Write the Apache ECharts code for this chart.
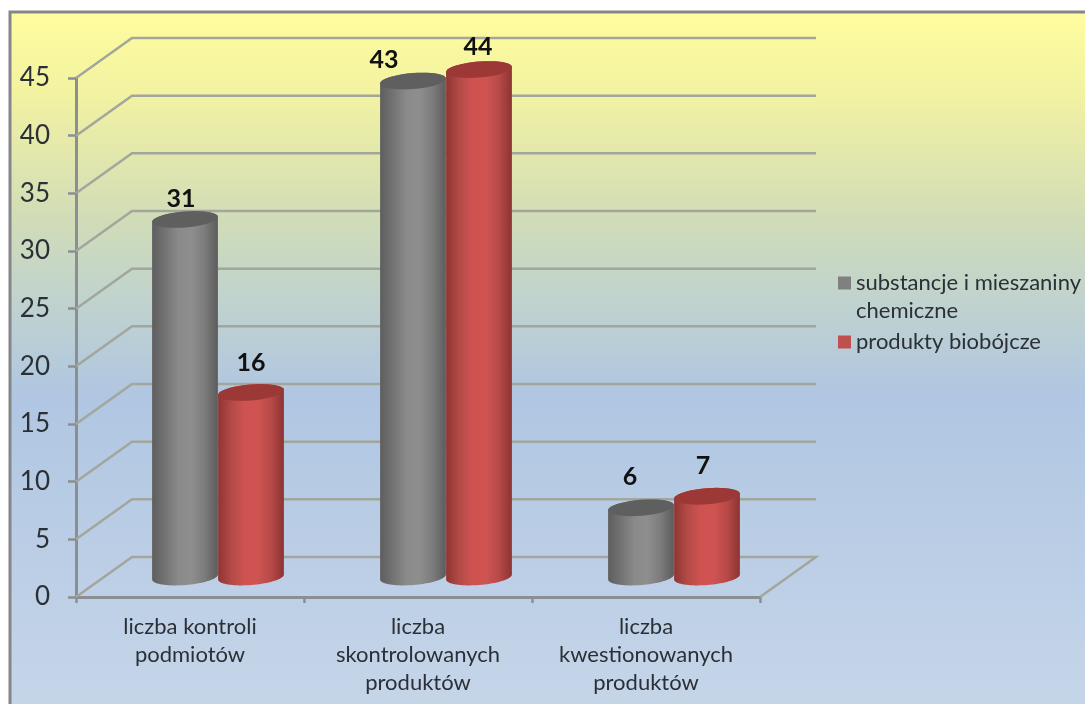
<!DOCTYPE html>
<html><head><meta charset="utf-8">
<style>html,body{margin:0;padding:0;background:#fff}#c{width:1085px;height:704px}</style>
<script src="https://cdn.jsdelivr.net/npm/echarts@6/dist/echarts.min.js"></script>
</head><body><div id="c"></div>
<script>
const categories = ['liczba kontroli\npodmiotów', 'liczba\nskontrolowanych\nproduktów', 'liczba\nkwestionowanych\nproduktów'];
const seriesNames = ['substancje i mieszaniny\nchemiczne', 'produkty biobójcze'];
const chemicals = [31, 43, 6];
const biocides = [16, 44, 7];
const yTicks = [0, 5, 10, 15, 20, 25, 30, 35, 40, 45];

const depth = { dx: 56, dy: -40 };
const cyl = { rx: 33, ry: 8, tilt: -0.08 };
const chemNudge = [[-4, -21], [-29, -21], [-11, -31]];
const bioNudge = [[0, -30], [-1, -23], [-4, -30]];

const font = 'Lato';
const txt = '#2b3036';

function arc(cx, cy, from, to) {
  const pts = [];
  for (let k = 0; k <= 40; k++) {
    const t = from + (to - from) * k / 40;
    const ex = cyl.rx * Math.cos(t), ey = cyl.ry * Math.sin(t);
    pts.push([cx + ex * Math.cos(cyl.tilt) - ey * Math.sin(cyl.tilt),
              cy + ex * Math.sin(cyl.tilt) + ey * Math.cos(cyl.tilt)]);
  }
  return pts;
}
function hGrad(stops) {
  return { type: 'linear', x: 0, y: 0, x2: 1, y2: 0,
    colorStops: stops.map((c, i) => ({ offset: i / (stops.length - 1), color: c })) };
}
function cylinderSeries(name, values, side, nudges, bodyStops, topColor, legendColor) {
  return {
    name, type: 'custom', coordinateSystem: 'cartesian2d', z: 5 + side,
    itemStyle: { color: legendColor }, clip: false, silent: true,
    encode: { x: 0, y: 1 },
    data: values.map((v, i) => [i, v]),
    renderItem(params, api) {
      const i = api.value(0), v = api.value(1);
      const top = api.coord([i, v]), base = api.coord([i, 0]);
      const cx = top[0] + depth.dx / 2 + (side ? cyl.rx : -cyl.rx);
      const ty = top[1] + depth.dy / 2, by = base[1] + depth.dy / 2;
      const n = nudges[params.dataIndex];
      const body = arc(cx, ty, Math.PI, 2 * Math.PI)
        .concat(arc(cx, by, 0, Math.PI));
      return { type: 'group', children: [
        { type: 'polygon', shape: { points: body }, style: { fill: hGrad(bodyStops) } },
        { type: 'polygon', shape: { points: arc(cx, ty, 0, 2 * Math.PI) }, style: { fill: topColor } },
        { type: 'text', style: { x: cx + n[0], y: ty + n[1], text: String(v), align: 'center', verticalAlign: 'middle',
            font: 'bold 25px ' + font, fill: '#111' } }
      ] };
    }
  };
}

const chart = echarts.init(document.getElementById('c'), null, { renderer: 'canvas' });
chart.setOption({
  animation: false,
  backgroundColor: '#ffffff',
  graphic: [{
    type: 'rect', z: -10, silent: true,
    shape: { x: 10, y: 12, width: 1080, height: 700 },
    style: { stroke: '#85858a', lineWidth: 3,
      fill: { type: 'linear', x: 0, y: 0, x2: 0, y2: 1, colorStops: [
        { offset: 0, color: '#fffd9e' },
        { offset: 0.12, color: '#f2f2a2' },
        { offset: 0.3, color: '#d0dcb8' },
        { offset: 0.42, color: '#bfd2cf' },
        { offset: 0.55, color: '#b0c6e2' },
        { offset: 1, color: '#c6d6e9' }
      ] } }
  }],
  legend: {
    orient: 'vertical', left: 838, top: 241, padding: 0, icon: 'rect', itemWidth: 13, itemHeight: 13, itemGap: 3,
    selectedMode: false,
    formatter: name => (name.indexOf('\n') >= 0 ? '\n' + name : name),
    textStyle: { fontFamily: font, fontSize: 22, color: txt, lineHeight: 28 },
    data: seriesNames
  },
  grid: { left: 76, right: 325, top: 78, bottom: 107 },
  xAxis: {
    type: 'category', data: categories,
    axisLine: { lineStyle: { color: '#8b8f92', width: 3 } },
    axisTick: { show: true, alignWithLabel: false, length: 6, lineStyle: { color: '#8b8f92', width: 2.5 } },
    axisLabel: { fontFamily: font, fontSize: 22, color: txt, lineHeight: 28, margin: 16, interval: 0 }
  },
  yAxis: {
    type: 'value', min: 0, max: 45, interval: 5,
    splitLine: { show: false },
    axisLine: { show: true, lineStyle: { color: '#8b8f92', width: 3 } },
    axisTick: { show: true, length: 8, lineStyle: { color: '#8b8f92', width: 2.5 } },
    axisLabel: { fontFamily: font, fontSize: 26, color: txt, margin: 26, padding: [6, 0, 0, 0] }
  },
  series: [
    {
      type: 'custom', coordinateSystem: 'cartesian2d', z: 1, silent: true, clip: false,
      encode: { x: 0, y: 1 },
      data: yTicks.map(v => [0, v]),
      renderItem(params, api) {
        const y = api.coord([0, api.value(1)])[1];
        const x0 = params.coordSys.x, x1 = x0 + params.coordSys.width;
        const pts = [[x0, y], [x0 + depth.dx, y + depth.dy], [x1 + depth.dx, y + depth.dy]];
        if (api.value(1) === 0) pts.push([x1, y]);
        return { type: 'polyline', shape: { points: pts },
          style: { stroke: '#a2a69c', lineWidth: 2.5, fill: null } };
      }
    },
    cylinderSeries(seriesNames[0], chemicals, 0, chemNudge,
      ['#5e5e5e', '#737373', '#8a8a8a', '#8e8e8e', '#7c7c7c', '#5c5c5c'], '#5f5f5f', '#808080'),
    cylinderSeries(seriesNames[1], biocides, 1, bioNudge,
      ['#8f3533', '#b34a47', '#ce5350', '#cf5451', '#b84a48', '#8c3432'], '#9c3836', '#c0504d')
  ]
});
</script></body></html>
